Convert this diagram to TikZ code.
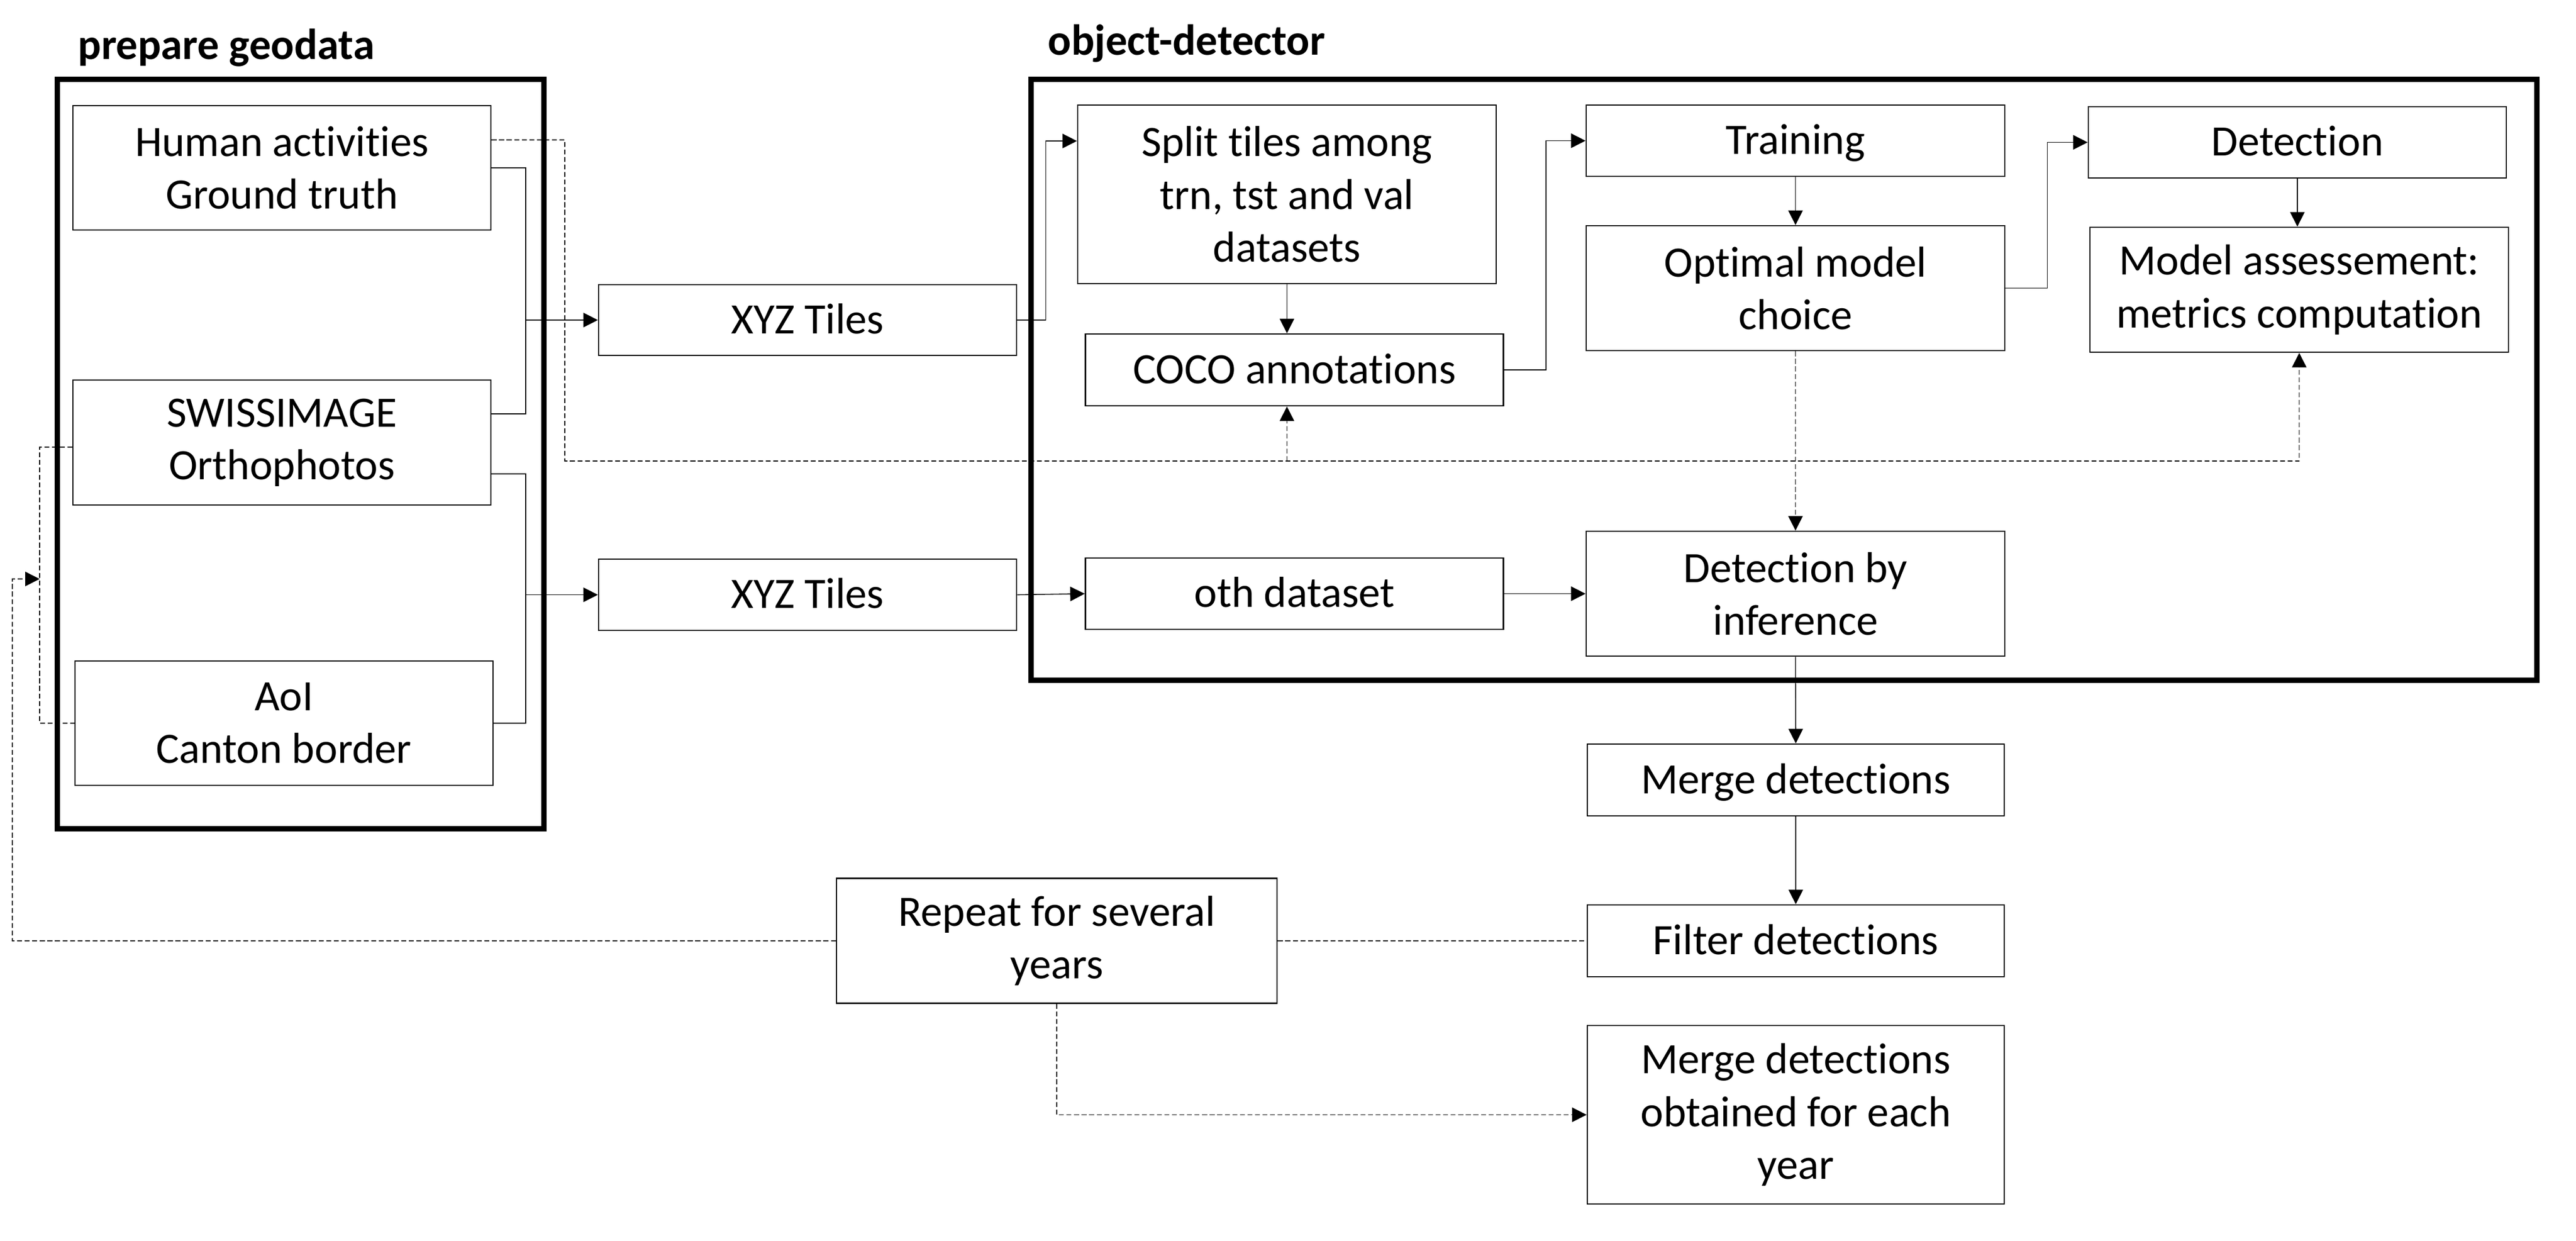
\documentclass[tikz,border=0pt]{standalone}
\usepackage{fontspec}
\setmainfont{Carlito}[Ligatures=NoCommon]
\usepackage{tikz}
\usetikzlibrary{arrows.meta}
\usetikzlibrary{positioning}

\begin{document}
\begin{tikzpicture}[
		blk/.style={draw, line width=0.77pt, minimum width=7.8cm, inner sep=0pt, align=center, font=\fontsize{23}{28}\selectfont},
		oneline/.style={text height=0.62cm, text depth=0.12cm},
		frame/.style={draw, line width=2.85pt, inner sep=0pt},
		grouptitle/.style={anchor=base west, inner sep=0pt, font=\fontsize{23}{28}\selectfont\bfseries},
		conn/.style={line width=0.45pt},
		arr/.style={conn, -{Triangle[length=0.27cm, width=0.27cm]}},
		dline/.style={line width=0.5pt, dash pattern=on 2.6pt off 1.4pt},
		darr/.style={dline, -{Triangle[length=0.27cm, width=0.27cm]}}]
				\useasboundingbox (0,0) rectangle (48.07,-23.14);
				% groups
				\node[frame, minimum width=9.08cm, minimum height=13.98cm] (geo) at (5.61, -8.47) {};
				\node[frame, minimum width=28.10cm, minimum height=11.21cm] (od) at (33.29, -7.085) {};
				\node[grouptitle] (geotitle) at (1.45, -1.10) {prepare geodata};
				\node[grouptitle] (odtitle) at (19.55, -1.02) {object-detector};
				% prepare geodata
				\node[blk, minimum height=2.32cm] (hum) at ( 5.26,  -3.13) {Human activities\\Ground truth};
				\node[blk, minimum height=2.33cm] (swiss) at ( 5.26,  -8.255) {SWISSIMAGE\\Orthophotos};
				\node[blk, minimum height=2.32cm] (aoi) at ( 5.30, -13.49) {AoI\\Canton border};
				\node[blk, oneline, minimum height=1.32cm] (xyz1) at (15.07,  -5.97) {XYZ Tiles};
				\node[blk, oneline, minimum height=1.33cm] (xyz2) at (15.07, -11.095) {XYZ Tiles};
				% object-detector
				\node[blk, minimum width=7.81cm, minimum height=3.33cm] (split) at (24.015, -3.625) {Split tiles among\\trn, tst and val\\datasets};
				\node[blk, oneline, minimum height=1.34cm] (coco) at (24.155, -6.90) {COCO annotations};
				\node[blk, oneline, minimum width=7.81cm, minimum height=1.33cm] (train) at (33.505, -2.625) {Training};
				\node[blk, minimum width=7.81cm, minimum height=2.33cm] (optim) at (33.505, -5.375) {Optimal model\\choice};
				\node[blk, oneline, minimum height=1.33cm] (detect) at (42.87, -2.655) {Detection};
				\node[blk, minimum width=7.81cm, minimum height=2.33cm] (assess) at (42.905, -5.405) {Model assessement:\\metrics computation};
				\node[blk, oneline, minimum height=1.33cm] (oth) at (24.155, -11.075) {oth dataset};
				\node[blk, minimum width=7.81cm, minimum height=2.33cm] (infer) at (33.505, -11.075) {Detection by\\inference};
				% post-processing
				\node[blk, oneline, minimum width=7.78cm, minimum height=1.34cm] (merge) at (33.51, -14.55) {Merge detections};
				\node[blk, oneline, minimum width=7.78cm, minimum height=1.34cm] (filter) at (33.51, -17.55) {Filter detections};
				\node[blk, minimum width=8.22cm, minimum height=2.33cm] (rpt) at (19.72, -17.55) {Repeat for several\\years};
				\node[blk, minimum width=7.78cm, minimum height=3.33cm] (mergey) at (33.51, -20.795) {Merge detections\\obtained for each\\year};
				\coordinate (j1) at (9.81, -5.97);
				\coordinate (j2) at (9.81, -11.095);
				\coordinate (dl) at (10.54, -8.60);
				\coordinate (k1) at (0.74, -10.80);
				\coordinate (k0) at (0.23, -10.80);
				% solid flow
				\draw[conn] (hum.east) -| (j1) |- ([yshift=0.535cm]swiss.east);
				\draw[arr] (j1) -- (xyz1.west);
				\draw[conn] ([yshift=-0.585cm]swiss.east) -| (j2) |- (aoi.east);
				\draw[arr] (j2) -- (xyz2.west);
				\draw[arr] (xyz1.east) -- ++(0.53,0) |- ([yshift=0.995cm]split.west);
				\draw[arr] (split.south) -- (split.south |- coco.north);
				\draw[arr] (coco.east) -- ++(0.78,0) |- (train.west);
				\draw[arr] (train.south) -- (optim.north);
				\draw[arr] (optim.east) -- ++(0.78,0) |- (detect.west);
				\draw[arr] (detect.south) -- (detect.south |- assess.north);
				\draw[arr] (xyz2.east) -- (oth.west);
				\draw[arr] (oth.east) -- (infer.west);
				\draw[arr] (infer.south) -- (merge.north);
				\draw[arr] (merge.south) -- (filter.north);
				% dashed flow
				\draw[darr] (optim.south) -- (infer.north);
				\draw[darr] ([yshift=0.52cm]hum.east) -| (dl) -| (assess.south);
				\draw[darr] (dl -| split.south) -- (split.south |- coco.south);
				\draw[dline] ([yshift=-0.085cm]swiss.west) -| (k1) |- (aoi.west);
				\draw[darr] (rpt.west) -| (k0) -- (k1);
				\draw[dline] (rpt.east) -- (filter.west);
				\draw[darr] (rpt.south) |- (mergey.west);
			\end{tikzpicture}
\end{document}
